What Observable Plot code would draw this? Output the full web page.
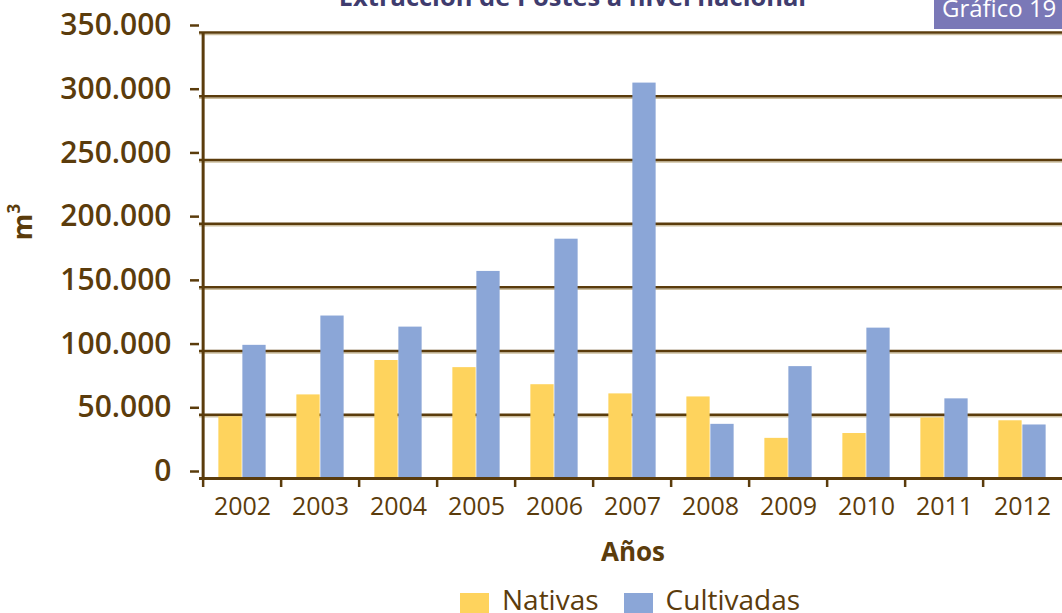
<!DOCTYPE html>
<html><head><meta charset="utf-8">
<script src="https://cdn.jsdelivr.net/npm/d3@7"></script>
<script src="https://cdn.jsdelivr.net/npm/@observablehq/plot@0.6"></script>
<style>
body{margin:0;background:#fff;}
#wrap{position:relative;width:1062px;height:613px;overflow:hidden;font-family:"Open Sans",sans-serif;color:#5b3c0c;}
#chart{position:absolute;left:0;top:0;}
.title{position:absolute;left:0;width:1145px;text-align:center;top:-16px;font-size:25.5px;line-height:25px;font-weight:700;color:#3f3c6e;white-space:nowrap;}
.badge{position:absolute;left:934px;top:0;width:140px;height:29px;background:#7a78b7;color:#fff;font-size:24px;line-height:24px;padding-left:8px;box-sizing:border-box;white-space:nowrap;overflow:visible;}
.badge span{position:relative;top:-4px;}
.ylab{position:absolute;left:21px;top:222px;transform:translate(-50%,-50%) rotate(-90deg);font-size:27px;font-weight:700;white-space:nowrap;}
.ylab sup{font-size:17px;position:relative;top:-2px;}
.xlab{position:absolute;left:633px;top:551px;transform:translate(-50%,-50%);font-size:26px;font-weight:700;}
.legend{position:absolute;top:580px;left:460px;display:flex;align-items:center;font-size:28px;white-space:nowrap;}
.legend .sw{display:inline-block;width:29px;height:27px;margin-right:13px;position:relative;top:7px;}
.legend .item{display:flex;align-items:center;margin-right:25px;}
</style></head><body>
<div id="wrap">
  <div id="chart"></div>
  <div class="title">Extracción de Postes a nivel nacional</div>
  <div class="badge"><span>Gráfico 19</span></div>
  <div class="ylab">m<sup>3</sup></div>
  <div class="xlab">Años</div>
  <div class="legend" id="legend"></div>
</div>
<script>
const years = ["2002","2003","2004","2005","2006","2007","2008","2009","2010","2011","2012"];
const nativas = [48500, 65600, 92600, 87000, 73600, 66400, 64000, 31500, 35300, 47500, 45300];
const cultivadas = [104500, 127500, 118800, 162500, 187800, 310300, 42500, 87800, 118000, 62500, 42000];
const seriesNames = ["Nativas", "Cultivadas"];
const seriesColors = ["#FED35D", "#8BA6D7"];
const yTicks = [0, 50000, 100000, 150000, 200000, 250000, 300000, 350000];

const brown = "#5b3c0c";
const W = 1062, H = 525;
const xRange = [199, 1065];
const bw = (xRange[1] - xRange[0]) / years.length;
const barW = 24;

const data = [];
years.forEach((y, i) => {
  data.push({year: y, series: seriesNames[0], value: nativas[i]});
  data.push({year: y, series: seriesNames[1], value: cultivadas[i]});
});

const fmt = d3.formatLocale({decimal: ",", thousands: ".", grouping: [3], currency: ["", ""]}).format(",");

const chart = Plot.plot({
  width: W,
  height: H,
  marginLeft: 199,
  marginRight: 0,
  marginTop: 32,
  marginBottom: 47,
  style: {fontFamily: "'Open Sans', sans-serif", color: brown, background: "#fff", overflow: "visible"},
  x: {type: "band", domain: years, range: xRange, padding: 0},
  y: {domain: [0, 350000]},
  marks: [
    Plot.ruleY(yTicks.slice(1), {stroke: "#cdbf9f", strokeWidth: 1.5, dy: 2}),
    Plot.ruleY(yTicks.slice(1), {stroke: brown, strokeWidth: 2.5}),
    Plot.barY(data.filter(d => d.series === seriesNames[0]), {x: "year", y: "value", fill: seriesColors[0], insetLeft: bw / 2 - barW, insetRight: bw / 2}),
    Plot.barY(data.filter(d => d.series === seriesNames[1]), {x: "year", y: "value", fill: seriesColors[1], insetLeft: bw / 2, insetRight: bw / 2 - barW}),
    Plot.ruleY([0], {stroke: brown, strokeWidth: 3}),
    Plot.ruleX([years[0]], {x: d => d, dx: -bw / 2, y1: 0, y2: 350000, stroke: brown, strokeWidth: 3}),
    Plot.axisY({ticks: yTicks, tickSize: 9, tickPadding: 19, tickFormat: fmt, fontSize: 30, fontWeight: 600, strokeWidth: 2.5, dy: -7, label: null}),
    Plot.axisX({tickSize: 9, tickFormat: () => "", dx: -bw / 2, strokeWidth: 2.5, label: null}),
    Plot.axisX({tickSize: 0, tickPadding: 19, fontSize: 25, label: null})
  ]
});
document.getElementById("chart").appendChild(chart);

const legend = document.getElementById("legend");
seriesNames.forEach((name, i) => {
  const item = document.createElement("div");
  item.className = "item";
  const sw = document.createElement("span");
  sw.className = "sw";
  sw.style.background = seriesColors[i];
  item.appendChild(sw);
  item.appendChild(document.createTextNode(name));
  legend.appendChild(item);
});
</script>
</body></html>
